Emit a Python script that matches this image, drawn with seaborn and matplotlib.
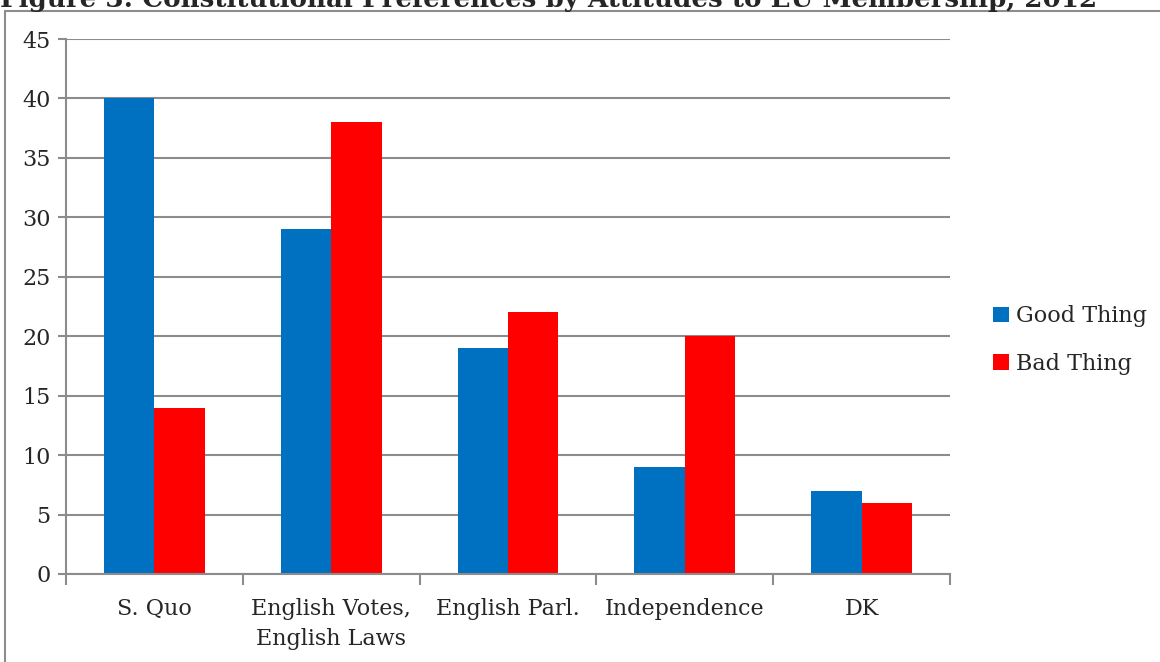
import matplotlib
matplotlib.use("Agg")
import matplotlib.pyplot as plt
import seaborn as sns
import pandas as pd
from matplotlib.lines import Line2D
from matplotlib.patches import Patch

categories = ["S. Quo", "English Votes,\nEnglish Laws", "English Parl.", "Independence", "DK"]
good_thing = [40, 29, 19, 9, 7]
bad_thing = [14, 38, 22, 20, 6]
series = ["Good Thing", "Bad Thing"]
colors = ["#0070C0", "#FF0000"]

df = pd.DataFrame({
    "cat": categories * 2,
    "val": good_thing + bad_thing,
    "series": [series[0]] * len(categories) + [series[1]] * len(categories),
})

sns.set_style("white")
plt.rcParams["font.family"] = ["DejaVu Serif"]
FS = 16

fig = plt.figure(figsize=(11.6, 6.62), dpi=100)
ax = fig.add_axes([66 / 1160, 1 - 574 / 662, (950 - 66) / 1160, (574 - 39) / 662])

sns.barplot(data=df, x="cat", y="val", hue="series", palette=colors,
            width=0.57, saturation=1, ax=ax, legend=False, edgecolor="none", linewidth=0)

ax.set_ylim(0, 45)
ax.set_xlim(-0.5, len(categories) - 0.5)
ax.set_yticks(range(0, 46, 5))
ax.yaxis.grid(True, color="#8c8c8c", linewidth=1.5)
ax.set_axisbelow(True)
ax.set_xlabel("")
ax.set_ylabel("")
for s in ["top", "right"]:
    ax.spines[s].set_visible(False)
for s in ["left", "bottom"]:
    ax.spines[s].set_color("#8c8c8c")
    ax.spines[s].set_linewidth(1.5)
ax.tick_params(axis="y", length=6, width=1.5, color="#8c8c8c", labelsize=FS, pad=5, left=True)
ax.tick_params(axis="x", which="major", length=0, labelsize=FS, pad=17)
ax.set_xticks([i - 0.5 for i in range(len(categories) + 1)], minor=True)
ax.tick_params(axis="x", which="minor", length=8, width=1.5, color="#8c8c8c", bottom=True)
for lab in ax.get_xticklabels():
    lab.set_linespacing(1.5)

handles = [Patch(facecolor=c, edgecolor="none") for c in colors]
fig.legend(handles, series, loc="center left", bbox_to_anchor=(973 / 1160, 1 - 340 / 662),
           frameon=False, fontsize=FS, handlelength=0.7, handleheight=0.7,
           handletextpad=0.35, labelspacing=1.15)

# outer chart frame
fig.add_artist(Line2D([5 / 1160, 5 / 1160], [0, 1 - 11 / 662], color="#8c8c8c", linewidth=1.5,
                      transform=fig.transFigure))
fig.add_artist(Line2D([5 / 1160, 1], [1 - 11 / 662, 1 - 11 / 662], color="#8c8c8c", linewidth=1.5,
                      transform=fig.transFigure))

fig.text(0, 1 - 7 / 662, "Figure 3: Constitutional Preferences by Attitudes to EU Membership, 2012",
         fontsize=18.8, fontweight="bold", ha="left", va="baseline")

fig.savefig("out.png", dpi=100)
